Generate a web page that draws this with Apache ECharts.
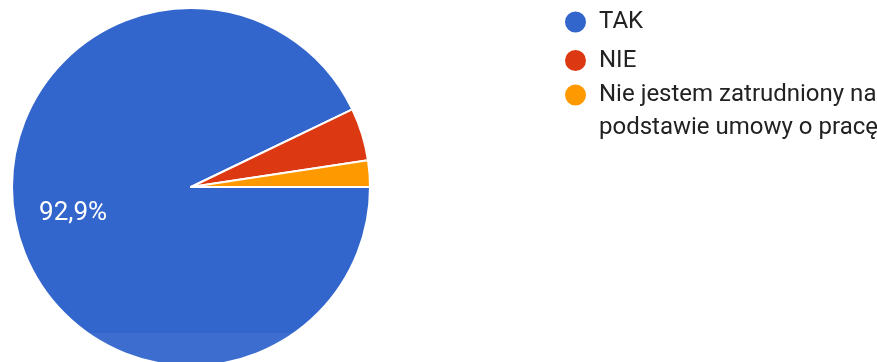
<!DOCTYPE html>
<html>
<head>
<meta charset="utf-8">
<script src="https://cdn.jsdelivr.net/npm/echarts@6/dist/echarts.min.js"></script>
<style>
  html, body { margin: 0; padding: 0; background: #fff; }
  #chart { width: 877px; height: 362px; }
</style>
</head>
<body>
<div id="chart"></div>
<script>
// answers and number of responses
const categories = ['TAK', 'NIE', 'Nie jestem zatrudniony na\npodstawie umowy o pracę'];
const counts = [39, 2, 1];
const colors = ['#3366CC', '#DC3912', '#FF9900'];

const total = counts.reduce((a, b) => a + b, 0);
const pct = v => (v / total * 100).toFixed(1).replace('.', ',') + '%';

const fontFamily = 'Roboto, Arial, sans-serif';
const legendText = { fontFamily, fontSize: 24, lineHeight: 23, color: '#222222', padding: [0, 0, 0, 7] };

const pieData = categories.map((name, i) => ({
  name,
  value: counts[i],
  itemStyle: { color: colors[i] }
}));

// transparent ring used only to place the percent label further out
const labelData = categories.map((name, i) => ({
  name,
  value: counts[i],
  itemStyle: { color: 'rgba(0,0,0,0)' }
}));

const chart = echarts.init(document.getElementById('chart'));

chart.setOption({
  animation: false,
  legend: [
    {
      orient: 'vertical',
      left: 563,
      top: 9.5,
      padding: 0,
      itemWidth: 23,
      itemHeight: 23,
      itemGap: 13.5,
      icon: 'circle',
      selectedMode: false,
      data: categories.slice(0, 2),
      textStyle: legendText
    },
    {
      // wrapped item: empty first line keeps the icon level with the first text line
      orient: 'vertical',
      left: 563,
      top: 45.5,
      padding: 0,
      itemWidth: 23,
      itemHeight: 23,
      icon: 'circle',
      selectedMode: false,
      data: [categories[2]],
      formatter: name => '\n' + name,
      textStyle: Object.assign({}, legendText, { lineHeight: 33 })
    }
  ],
  graphic: [{
    type: 'rect',
    silent: true,
    z: 100,
    shape: { x: 37, y: 333, width: 840, height: 30 },
    style: { fill: 'rgba(255,255,255,0.05)' }
  }],
  series: [
    {
      type: 'pie',
      center: [191, 187],
      radius: [0, 179],
      startAngle: 0,
      clockwise: true,
      silent: true,
      label: { show: false },
      labelLine: { show: false },
      itemStyle: { borderColor: '#ffffff', borderWidth: 2 },
      data: pieData
    },
    {
      type: 'pie',
      center: [191, 187],
      radius: [57, 179],
      startAngle: 0,
      clockwise: true,
      silent: true,
      labelLine: { show: false },
      label: {
        show: true,
        position: 'inside',
        color: '#ffffff',
        fontFamily,
        fontSize: 26,
        formatter: p => (p.value / total > 0.1 ? pct(p.value) : '')
      },
      data: labelData
    }
  ]
});
</script>
</body>
</html>
